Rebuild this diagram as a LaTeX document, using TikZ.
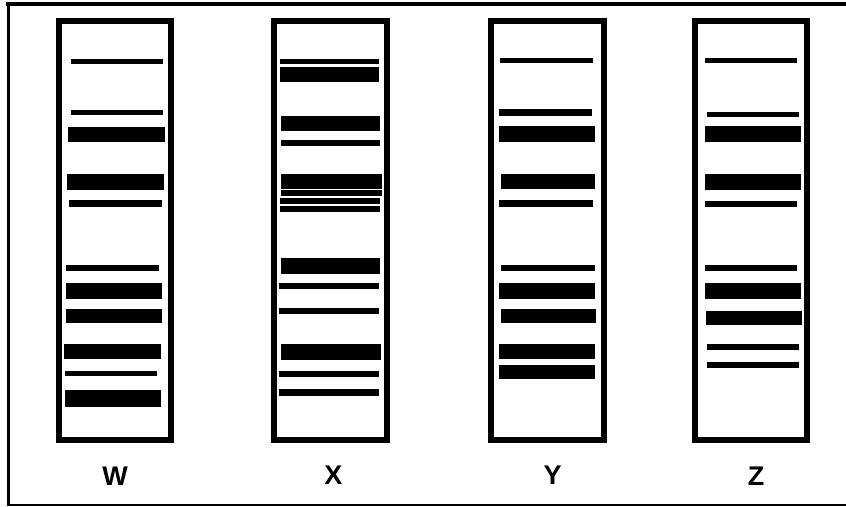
\documentclass[tikz,border=0pt]{standalone}
\usepackage{fontspec}
\setmainfont{Liberation Sans}
\begin{document}
\begin{tikzpicture}[x=1pt,y=-1pt,
  lane/.style={draw=black,line width=6pt,fill=white},
  band/.style={fill=black},
  lbl/.style={font=\fontsize{27}{27}\selectfont\bfseries,inner sep=0pt,anchor=center}]
\useasboundingbox (0,0) rectangle (846,506);
% outer border
\draw[line width=4pt] (6,3.5) -- (846,3.5);
\draw[line width=3pt] (8,2) -- (8,505);
\draw[line width=1.6pt] (7,505) -- (846,505);
% lanes
\draw[lane] (59,21.3) rectangle (171,440);
\draw[lane] (274.3,21.3) rectangle (387,440);
\draw[lane] (491.3,21.3) rectangle (604.3,440);
\draw[lane] (695,21.3) rectangle (807,440);
% W bands
\foreach \a/\b/\c/\d in {70.7/59/163.3/64, 70.7/110/163/115.3, 68/127.3/165/142.3, 67/174.3/164/190,
  69/200/162/207.3, 66/265.3/159.3/271.3, 66/283.3/162/299.3, 66/308.7/162/323.3,
  64/344.3/161/359.3, 65/370.7/157.3/376, 65/390.3/161/406.7}
  \fill[band] (\a,\b) rectangle (\c,\d);
% X bands
\foreach \a/\b/\c/\d in {280/59/379.3/64, 280/67/379.3/82, 281/116/380.3/131, 281/140/380.3/146.3,
  281/174/381.7/189.3, 281/190.3/381.7/196, 280/198.3/380.3/204.3, 280/206.3/380.3/212.3,
  281/258.3/380.3/274.3, 279/283.3/379.3/289.3, 279/307.7/379.3/313.7, 281/344.3/381.3/360.3,
  279/370.7/379.3/376.7, 279/388.7/379.3/395.7}
  \fill[band] (\a,\b) rectangle (\c,\d);
% Y bands
\foreach \a/\b/\c/\d in {500/58.3/593/63.3, 499.3/109.3/591.7/116, 499.3/126/595.3/142, 501.3/174.3/595.3/189.3,
  499.3/200.3/592.7/207, 501.3/265.3/594.7/271.3, 499.3/283.3/595.3/299.3, 501.3/308.7/596.3/323.3,
  499.3/344.3/595.3/359.3, 499.3/364.7/595.3/379.3}
  \fill[band] (\a,\b) rectangle (\c,\d);
% Z bands
\foreach \a/\b/\c/\d in {704.7/58.3/797.3/63.3, 706.7/112/799/117.3, 704.7/126/800.7/142, 704.7/174.3/800.7/190,
  704.7/201/797.3/206.7, 704.7/265.3/797.3/270.7, 704.7/283.3/800.7/299.3, 706/310.7/801.7/325.3,
  706.7/344/799/349.7, 706.7/361.7/799/367.7}
  \fill[band] (\a,\b) rectangle (\c,\d);
% labels
\node[lbl] (W) at (115,476.3) {W};
\node[lbl] (X) at (333.3,475.5) {X};
\node[lbl] (Y) at (552.5,475.5) {Y};
\node[lbl] (Z) at (756,476.3) {Z};
\end{tikzpicture}
\end{document}
